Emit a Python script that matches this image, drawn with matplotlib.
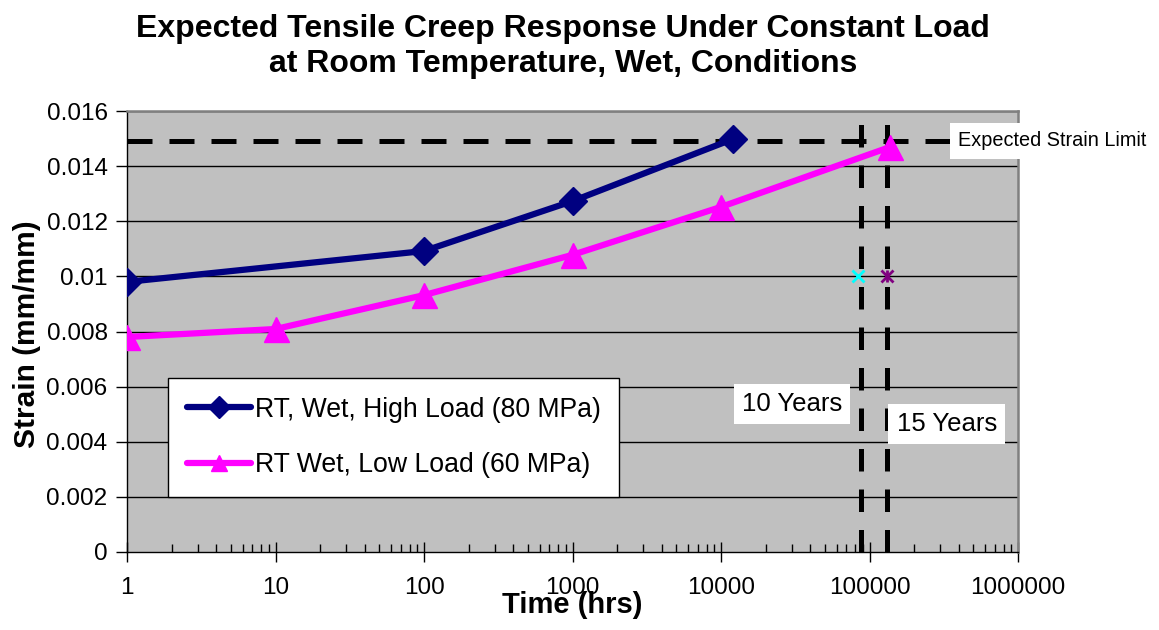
import matplotlib
matplotlib.use("Agg")
import matplotlib.pyplot as plt
from matplotlib.ticker import FixedLocator, LogLocator, NullFormatter, FuncFormatter

plt.rcParams['font.family'] = ['Liberation Sans', 'DejaVu Sans']

# Data
high_time = [1, 100, 1000, 12000]
high_strain = [0.0098, 0.01092, 0.01273, 0.01498]
low_time = [1, 10, 100, 1000, 10000, 137000]
low_strain = [0.0078, 0.00809, 0.00932, 0.01078, 0.01252, 0.01469]
high_label = "RT, Wet, High Load (80 MPa)"
low_label = "RT Wet, Low Load (60 MPa)"
strain_limit = 0.0149
years_hours = [87600, 131400]
year_labels = ["10 Years", "15 Years"]
marker_strain = 0.01
x_ticks = [1, 10, 100, 1000, 10000, 100000, 1000000]
y_ticks = [0, 0.002, 0.004, 0.006, 0.008, 0.010, 0.012, 0.014, 0.016]
y_tick_labels = ["0", "0.002", "0.004", "0.006", "0.008", "0.01", "0.012", "0.014", "0.016"]
title_lines = ["Expected Tensile Creep Response Under Constant Load",
               "at Room Temperature, Wet, Conditions"]

W, H = 1159, 630
fig = plt.figure(figsize=(W / 100, H / 100), dpi=100)
L, R, T, B = 127, 1018, 111, 552
ax = fig.add_axes([L / W, 1 - B / H, (R - L) / W, (B - T) / H])
ax.set_facecolor('#C0C0C0')

ax.set_xscale('log')
ax.set_xlim(1, 1e6)
ax.set_ylim(0, 0.016)

for y in y_ticks[1:]:
    ax.axhline(y, color='black', lw=1.0, zorder=1)

ax.plot(high_time, high_strain, color='#000080', lw=4.5, marker='D', ms=14,
        label=high_label, zorder=4, solid_capstyle='round')
ax.plot(low_time, low_strain, color='#FF00FF', lw=4.5, marker='^', ms=18,
        label=low_label, zorder=4, solid_capstyle='round')

ax.axhline(strain_limit, color='black', lw=3.6, dashes=(5, 3.4), zorder=3)
for xv in years_hours:
    ax.axvline(xv, color='black', lw=3.6, dashes=(4.5, 3.6), zorder=3)

ax.plot([years_hours[0] * 0.95], [marker_strain], marker='x', color='#00FFFF', ms=9, mew=2, zorder=2)
ax.plot([years_hours[1]], [marker_strain], marker='x', color='#800080', ms=9, mew=2, zorder=2)
ax.plot([years_hours[1]], [marker_strain], marker='|', color='#800080', ms=9, mew=2, zorder=2)

bbox = dict(facecolor='white', edgecolor='none', pad=6)
ax.text(30000, 0.00537, year_labels[0], fontsize=18.5, ha='center', va='center', bbox=bbox, zorder=5)
ax.text(152000, 0.00464, year_labels[1], fontsize=18.5, ha='left', va='center', bbox=bbox, zorder=5)
fig.text(958 / W, 1 - 141 / H, "Expected Strain Limit", fontsize=14.3, ha='left', va='center',
         bbox=dict(facecolor='white', edgecolor='none', pad=6), zorder=5)

ax.xaxis.set_major_locator(FixedLocator(x_ticks))
ax.xaxis.set_major_formatter(FuncFormatter(lambda v, p: f"{int(round(v))}"))
ax.xaxis.set_minor_locator(LogLocator(base=10, subs=range(2, 10), numticks=20))
ax.xaxis.set_minor_formatter(NullFormatter())
ax.tick_params(axis='x', which='major', direction='inout', length=14, width=1, labelsize=17.5, pad=11)
ax.tick_params(axis='x', which='minor', direction='in', length=6, width=1)
ax.set_yticks(y_ticks)
ax.set_yticklabels(y_tick_labels)
ax.tick_params(axis='y', which='major', direction='out', length=8, width=1, labelsize=17.5, pad=6)

for s in ['top', 'right']:
    ax.spines[s].set_color('#808080')
    ax.spines[s].set_linewidth(1.8)
for s in ['left', 'bottom']:
    ax.spines[s].set_color('black')
    ax.spines[s].set_linewidth(1.0)

ax.set_xlabel("Time (hrs)", fontsize=21, fontweight='bold')
ax.xaxis.label.set_va('baseline')
ax.xaxis.set_label_coords((572 - L) / (R - L), -(613 - B) / (B - T))
ax.set_ylabel("Strain (mm/mm)", fontsize=21.5, fontweight='bold')
ax.yaxis.set_label_coords(-(L - 41) / (R - L), 1 - (334 - T) / (B - T))

fig.text(563 / W, 1 - 37 / H, title_lines[0], fontsize=23, fontweight='bold', ha='center', va='baseline')
fig.text(563 / W, 1 - 72 / H, title_lines[1], fontsize=23, fontweight='bold', ha='center', va='baseline')

leg = ax.legend(loc='upper left', bbox_to_anchor=((168 - L) / (R - L), (B - 378) / (B - T)), fontsize=19.2,
                frameon=True, fancybox=False, edgecolor='black', framealpha=1,
                handlelength=2.4, handletextpad=0.15, borderpad=0.7, labelspacing=1.1,
                borderaxespad=0)
leg.get_frame().set_linewidth(1.0)
for h in leg.legend_handles:
    h.set_markersize(11)

fig.savefig("out.png", dpi=100)
